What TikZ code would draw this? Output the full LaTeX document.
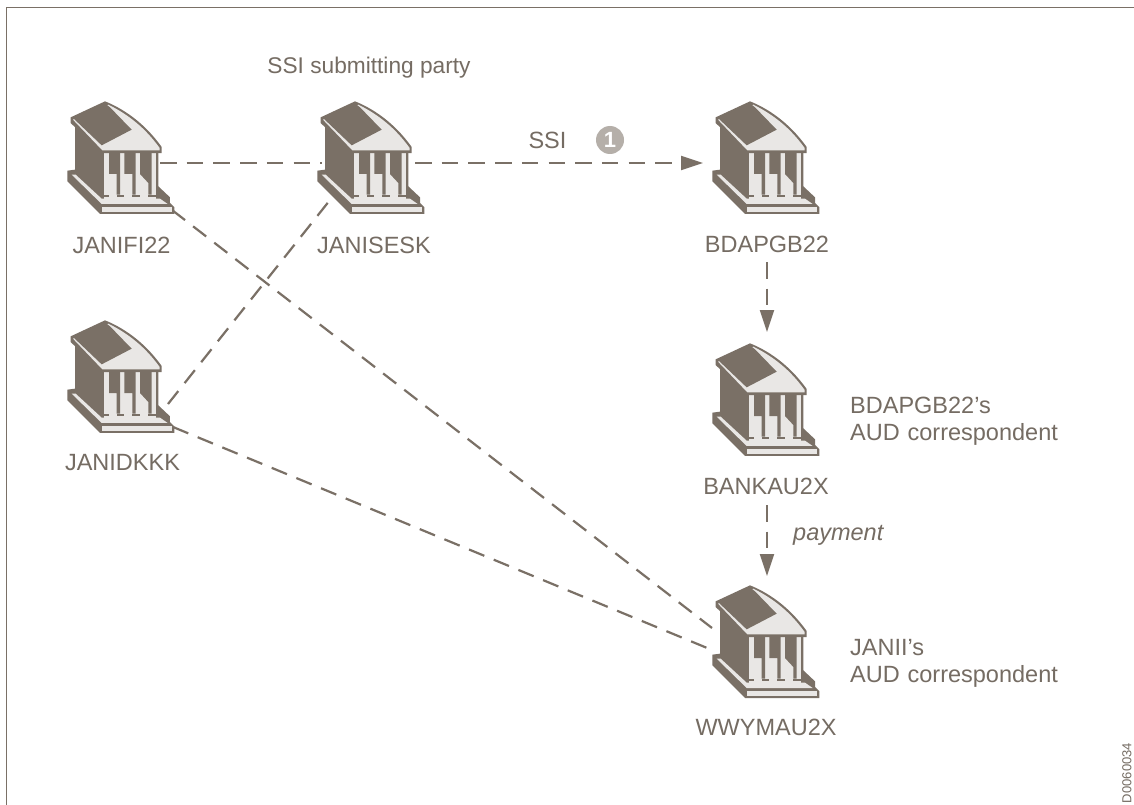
\documentclass[tikz,border=0pt]{standalone}
\usepackage{fontspec}
\setmainfont{Liberation Sans}
\usetikzlibrary{arrows.meta}
\definecolor{brn}{HTML}{7A7066}
\definecolor{lite}{HTML}{E9E7E5}
\definecolor{txt}{HTML}{756C63}
\definecolor{bub}{HTML}{B5AFA9}
\tikzset{
  bankbox/.style={minimum width=107pt,minimum height=124pt,inner sep=0pt,outer sep=0pt},
  lbl/.style={text=txt,font=\fontsize{23.5}{27}\selectfont,inner sep=0pt,align=left},
  link/.style={draw=brn,line width=2.2pt,dash pattern=on 16.5pt off 10.2pt},
  linkarrow/.style={link,-{Triangle[length=22pt,width=14pt]}},
  pics/bank/.style={code={
    \begin{scope}[x=0.3333pt,y=-0.3333pt,shift={(-228,-285)}]
      \fill[brn] (90,160)--(90,305)--(67,308)--(67,340)--(165,438)--(388,438)--(388,418)--(375,405)--(375,388)--(340,355)--(340,250)--(170,240)--cycle;
      \fill[lite] (80,320)--(92,320)--(170,392)--(345,392)--(368,408)--(170,408)--cycle;
      \fill[lite] (172,418)--(380,418)--(380,432)--(172,432)--cycle;
      \fill[lite] (178,250)--(333,250)--(333,392)--(178,392)--cycle;
      \fill[brn] (192,250)--(225,250)--(225,380)--(215,380)--(215,318)--(192,318)--cycle;
      \fill[brn] (238,250)--(272,250)--(272,380)--(262,380)--(262,318)--(238,318)--cycle;
      \fill[brn] (285,250)--(320,250)--(320,380)--(310,380)--(310,345)--(285,318)--cycle;
      \fill[brn] (178,380) rectangle (192,388);
      \fill[brn] (215,380) rectangle (238,388);
      \fill[brn] (262,380) rectangle (285,388);
      \fill[brn] (310,380) rectangle (333,388);
      \fill[brn] (77,148)--(180,100) .. controls (230,120) and (295,160) .. (350,237)--(350,255)--(170,255)--(77,165)--cycle;
      \fill[lite] (84,155)--(190,110) .. controls (230,130) and (290,165) .. (344,240)--(344,247)--(172,247)--cycle;
      \fill[brn] (84,150)--(178,105)--(195,118)--(260,185)--(170,232)--cycle;
    \end{scope}
  }},
}
\begin{document}
\begin{tikzpicture}[x=1pt,y=-1pt]
\useasboundingbox (0,0) rectangle (1134,805);
\fill[white] (0,0) rectangle (1134,805);
\draw[brn,line width=1pt] (6.5,805) -- (6.5,7.5) -- (1134,7.5);
\node[bankbox] (janifi) at (121,163) {};
\node[bankbox] (janisesk) at (371,163) {};
\node[bankbox] (bdapgb) at (766,163) {};
\node[bankbox] (janidkkk) at (121,382) {};
\node[bankbox] (bankau) at (766,405) {};
\node[bankbox] (wwymau) at (766,647) {};
\draw[link] ([shift={(39,0)}]janifi.center) -- ([shift={(-49,0)}]janisesk.center);
\draw[linkarrow] ([shift={(44,0)}]janisesk.center) -- ([shift={(-63,0)}]bdapgb.center);
\draw[linkarrow] ([shift={(1,99)}]bdapgb.center) -- ([shift={(1,-73)}]bankau.center);
\draw[linkarrow] ([shift={(1,100)}]bankau.center) -- ([shift={(1,-71)}]wwymau.center);
\draw[link] ([shift={(51,47)}]janifi.center) -- ([shift={(-54,-19)}]wwymau.center);
\draw[link] ([shift={(47,22)}]janidkkk.center) -- ([shift={(-41,37)}]janisesk.center);
\draw[link] ([shift={(52,45)}]janidkkk.center) -- ([shift={(-54,3)}]wwymau.center);
\foreach \n in {janifi,janisesk,bdapgb,janidkkk,bankau,wwymau}{
  \pic at (\n.center) {bank};
}
\node[lbl,anchor=center] (l1) at (121.5,245) {JANIFI22};
\node[lbl,anchor=center] (l2) at (374,245) {JANISESK};
\node[lbl,anchor=center] (l3) at (767,244) {BDAPGB22};
\node[lbl,anchor=center] (l4) at (122.5,462.5) {JANIDKKK};
\node[lbl,anchor=center] (l5) at (766,486) {BANKAU2X};
\node[lbl,anchor=center] (l6) at (766,727) {WWYMAU2X};
\node[lbl,anchor=center,font=\fontsize{22.7}{27}\selectfont] (l7) at (369,68) {SSI submitting party};
\node[lbl,anchor=center] (l8) at (547.5,140) {SSI};
\node[lbl,anchor=west,text width=230pt] (l9) at (850,421) {BDAPGB22’s\\AUD correspondent};
\node[lbl,anchor=west,text width=230pt] (l10) at (850,663) {JANII’s\\AUD correspondent};
\node[lbl,anchor=west] (l11) at (793,535) {\itshape payment};
\node[circle,fill=bub,text=white,minimum size=28pt,inner sep=0pt,font=\fontsize{22}{22}\selectfont\bfseries] (b1) at (610,140) {1};
\node[text=txt,font=\fontsize{13}{13}\selectfont,rotate=90,inner sep=0pt] (d) at (1127,773) {D0060034};
\end{tikzpicture}
\end{document}
